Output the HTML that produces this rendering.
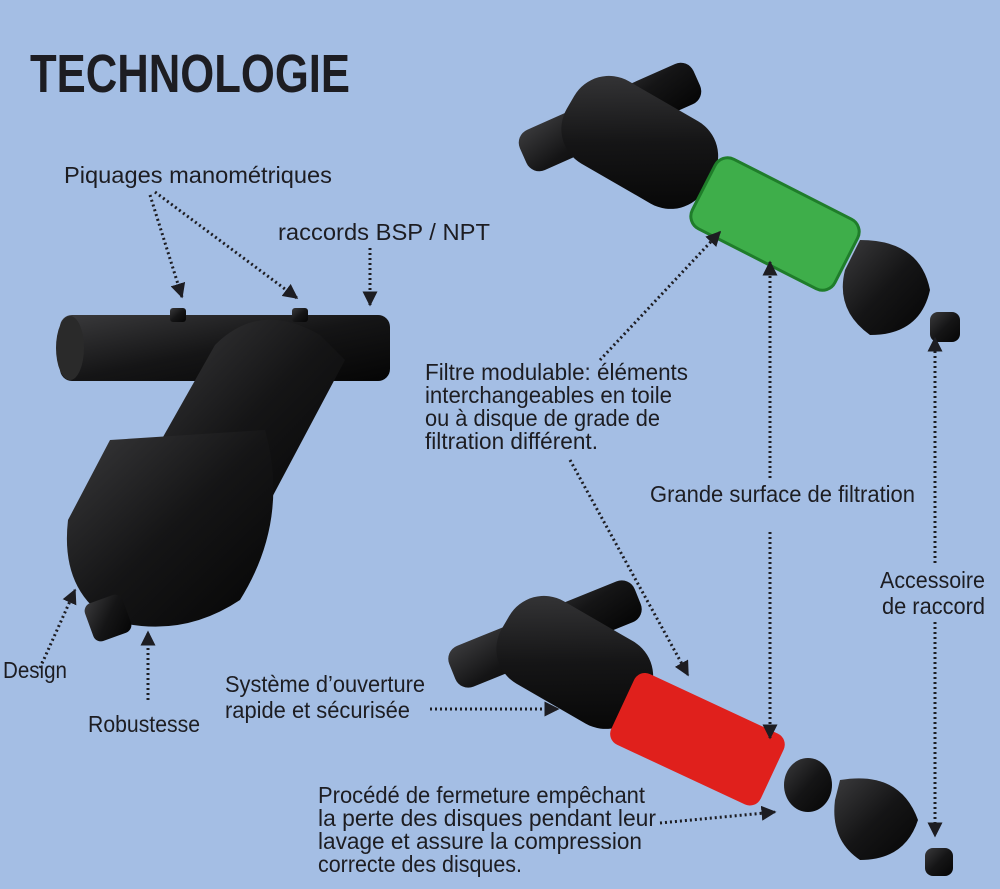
<!DOCTYPE html>
<html><head><meta charset="utf-8"><style>
body{margin:0;width:1000px;height:889px;background:#a4bee4;overflow:hidden}
svg{position:absolute;left:0;top:0}
text{font-family:"Liberation Sans",sans-serif;fill:#1d1d22}
</style></head><body>
<svg width="1000" height="889" viewBox="0 0 1000 889">
<defs>
<marker id="a" viewBox="0 0 10 10" refX="9" refY="5" markerWidth="5" markerHeight="5" orient="auto"><path d="M0,0L10,5L0,10z" fill="#1d1d22"/></marker>
<linearGradient id="bk" x1="0" y1="0" x2="1" y2="1"><stop offset="0" stop-color="#3a3a3c"/><stop offset=".5" stop-color="#151516"/><stop offset="1" stop-color="#050505"/></linearGradient>
</defs>
<text x="30" y="92" textLength="320" lengthAdjust="spacingAndGlyphs" style="font-weight:bold;font-size:54px">TECHNOLOGIE</text>

<!-- left filter -->
<g fill="url(#bk)">
<rect x="60" y="315" width="330" height="66" rx="12"/>
<ellipse cx="70" cy="348" rx="14" ry="32" fill="#2a2a2a"/>
<rect x="170" y="308" width="16" height="14" rx="3"/>
<rect x="292" y="308" width="16" height="14" rx="3"/>
<path d="M215,345 Q260,300 320,335 L345,360 L260,520 L150,460 Z"/>
<path d="M110,440 L265,430 Q290,520 240,600 Q180,640 110,620 Q60,590 68,520 Z"/>
<rect x="88" y="598" width="40" height="40" rx="8" transform="rotate(-20 108 618)"/>
</g>
<!-- top right filter -->
<g fill="url(#bk)">
<rect x="515" y="95" width="190" height="44" rx="14" transform="rotate(-24 610 117)"/>
<rect x="560" y="95" width="160" height="95" rx="40" transform="rotate(30 640 142)"/>
</g>
<rect x="695" y="185" width="160" height="78" rx="14" transform="rotate(27 775 224)" fill="#3eae4a" stroke="#1f7d2a" stroke-width="3"/>
<g fill="url(#bk)">
<path d="M860,240 Q920,240 930,290 Q920,335 870,335 Q835,310 845,270 Z"/>
<rect x="930" y="312" width="30" height="30" rx="8"/>
</g>
<!-- bottom filter -->
<g fill="url(#bk)">
<rect x="445" y="612" width="200" height="44" rx="14" transform="rotate(-22 545 634)"/>
<rect x="495" y="615" width="160" height="95" rx="40" transform="rotate(30 575 662)"/>
</g>
<rect x="615" y="700" width="165" height="78" rx="12" transform="rotate(25 697 739)" fill="#e0201c"/>
<g fill="url(#bk)">
<ellipse cx="808" cy="785" rx="24" ry="27"/>
<path d="M840,780 Q900,770 918,820 Q905,860 860,860 Q830,840 835,800 Z"/>
<rect x="925" y="848" width="28" height="28" rx="8"/>
</g>

<!-- arrows -->
<g stroke="#1d1d22" stroke-width="3" stroke-dasharray="2 3" fill="none" marker-end="url(#a)">
<path d="M150,195 L182,297"/>
<path d="M155,192 L297,298"/>
<path d="M370,248 L370,305"/>
<path d="M40,668 L75,590"/>
<path d="M148,700 L148,632"/>
<path d="M430,709 L558,709"/>
<path d="M600,360 L720,232"/>
<path d="M570,460 L688,675"/>
<path d="M770,478 L770,262"/>
<path d="M770,532 L770,738"/>
<path d="M935,563 L935,338"/>
<path d="M935,622 L935,836"/>
<path d="M660,823 L775,812"/>
</g>

<g font-size="23">
<text x="64" y="183" textLength="268" lengthAdjust="spacingAndGlyphs">Piquages manométriques</text>
<text x="278" y="240" textLength="212" lengthAdjust="spacingAndGlyphs">raccords BSP / NPT</text>
<text x="425" y="380" textLength="263" lengthAdjust="spacingAndGlyphs">Filtre modulable:  éléments</text>
<text x="425" y="403" textLength="247" lengthAdjust="spacingAndGlyphs">interchangeables en toile</text>
<text x="425" y="426" textLength="235" lengthAdjust="spacingAndGlyphs">ou à disque de grade de</text>
<text x="425" y="449" textLength="173" lengthAdjust="spacingAndGlyphs">filtration différent.</text>
<text x="650" y="502" textLength="265" lengthAdjust="spacingAndGlyphs">Grande surface de filtration</text>
<text x="880" y="588" textLength="105" lengthAdjust="spacingAndGlyphs">Accessoire</text>
<text x="882" y="614" textLength="103" lengthAdjust="spacingAndGlyphs">de raccord</text>
<text x="3" y="678" textLength="64" lengthAdjust="spacingAndGlyphs">Design</text>
<text x="88" y="732" textLength="112" lengthAdjust="spacingAndGlyphs">Robustesse</text>
<text x="225" y="692" textLength="200" lengthAdjust="spacingAndGlyphs">Système d’ouverture</text>
<text x="225" y="718" textLength="185" lengthAdjust="spacingAndGlyphs">rapide et sécurisée</text>
<text x="318" y="803" textLength="327" lengthAdjust="spacingAndGlyphs">Procédé de fermeture empêchant</text>
<text x="318" y="826" textLength="338" lengthAdjust="spacingAndGlyphs">la perte des disques pendant leur</text>
<text x="318" y="849" textLength="324" lengthAdjust="spacingAndGlyphs">lavage et assure la compression</text>
<text x="318" y="872" textLength="204" lengthAdjust="spacingAndGlyphs">correcte des disques.</text>
</g>
</svg>
</body></html>
